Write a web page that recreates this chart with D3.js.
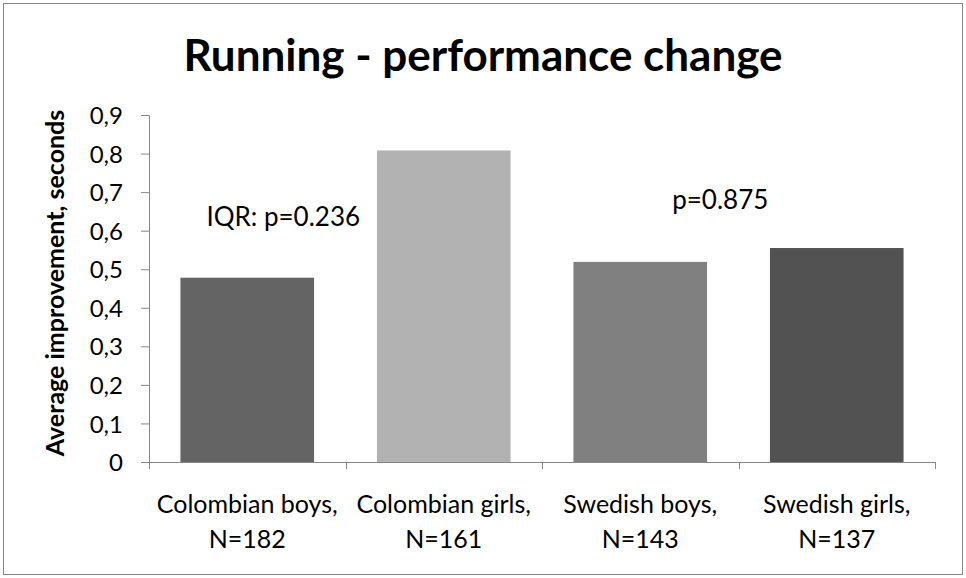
<!DOCTYPE html>
<html>
<head>
<meta charset="utf-8">
<script src="https://cdn.jsdelivr.net/npm/d3@7"></script>
<style>
  body { margin: 0; background: #fff; }
  svg text { font-family: Lato, "Open Sans", sans-serif; fill: #000; }
</style>
</head>
<body>
<div id="chart"></div>
<script>
// groups on the x axis (two-line labels)
var groups = ['Colombian boys', 'Colombian girls', 'Swedish boys', 'Swedish girls'];
var counts = ['N=182', 'N=161', 'N=143', 'N=137'];
// average improvement, seconds
var values = [0.478, 0.808, 0.519, 0.555];
var barColors = ['#646464', '#b2b2b2', '#808080', '#525252'];
var yTicks = [0, 0.1, 0.2, 0.3, 0.4, 0.5, 0.6, 0.7, 0.8, 0.9];
// p-value notes, anchored to a group and a height in axis units
var noteTexts = ['IQR: p=0.236', 'p=0.875'];
var noteGroups = ['Colombian boys', 'Swedish boys'];
var noteLevels = [0.612, 0.656];

var W = 966, H = 578;
var margin = { top: 115, right: 31, bottom: 116, left: 149 },
    width  = W - margin.left - margin.right,
    height = H - margin.top - margin.bottom;

var svg = d3.select('#chart').append('svg')
            .attr('width', W)
            .attr('height', H);

// outer frame
svg.append('rect')
   .attr('x', 3.5).attr('y', 3.5)
   .attr('width', W - 7).attr('height', H - 7)
   .attr('fill', '#fff')
   .attr('stroke', '#868686')
   .attr('stroke-width', 1);

svg.append('text')
   .attr('x', 483)
   .attr('y', 71)
   .attr('text-anchor', 'middle')
   .style('font-size', '44px')
   .style('font-weight', 'bold')
   .text('Running - performance change');

var g = svg.append('g')
           .attr('transform', 'translate(' + margin.left + ',' + margin.top + ')');

var x = d3.scaleBand()
          .domain(groups)
          .range([0, width])
          .paddingInner(0.32)
          .paddingOuter(0.16);
var y = d3.scaleLinear()
          .domain([0, 0.9])
          .range([height, 0]);

// bars
g.selectAll('.bar')
 .data(values)
 .enter().append('rect')
   .attr('class', 'bar')
   .attr('x', (d, i) => x(groups[i]))
   .attr('width', x.bandwidth())
   .attr('y', d => y(d))
   .attr('height', d => height - y(d))
   .attr('fill', (d, i) => barColors[i]);

// y axis
var yAxis = g.append('g')
   .call(d3.axisLeft(y).tickValues(yTicks).tickSize(8).tickPadding(18)
           .tickFormat(d => d3.format('.1f')(d).replace('.', ',').replace(/^0,0$/, '0')));
yAxis.selectAll('text').style('font-size', '24px').attr('dy', '0.36em');

// x axis with ticks at the category boundaries
var bounds = d3.range(groups.length + 1).map(i => i * width / groups.length);
var xAxis = g.append('g').attr('transform', 'translate(0,' + height + ')');
xAxis.append('line')
     .attr('x1', 0).attr('x2', width)
     .attr('y1', 0.5).attr('y2', 0.5);
xAxis.selectAll('.xt')
     .data(bounds)
     .enter().append('line')
     .attr('class', 'xt')
     .attr('x1', d => Math.round(d) + 0.5).attr('x2', d => Math.round(d) + 0.5)
     .attr('y1', 0).attr('y2', 7);
xAxis.selectAll('line').attr('stroke', '#868686');
yAxis.selectAll('line, path').attr('stroke', '#868686');

var lab = xAxis.selectAll('.xl')
     .data(groups)
     .enter().append('text')
     .attr('class', 'xl')
     .attr('text-anchor', 'middle')
     .style('font-size', '25px');
lab.append('tspan')
   .attr('x', d => x(d) + x.bandwidth() / 2)
   .attr('y', 51)
   .text(d => d + ',');
lab.append('tspan')
   .attr('x', d => x(d) + x.bandwidth() / 2)
   .attr('y', 86)
   .text((d, i) => counts[i]);

// y axis title
svg.append('text')
   .attr('transform', 'translate(64,' + 283 + ') rotate(-90)')
   .attr('text-anchor', 'middle')
   .style('font-size', '25px')
   .style('font-weight', 'bold')
   .text('Average improvement, seconds');

// p-value notes
var noteShift = [36, 80];
g.selectAll('.note')
 .data(noteTexts)
 .enter().append('text')
 .attr('class', 'note')
 .attr('x', (d, i) => x(noteGroups[i]) + x.bandwidth() / 2 + noteShift[i])
 .attr('y', (d, i) => y(noteLevels[i]))
 .attr('text-anchor', 'middle')
 .style('font-size', '26px')
 .text(d => d);
</script>
</body>
</html>
